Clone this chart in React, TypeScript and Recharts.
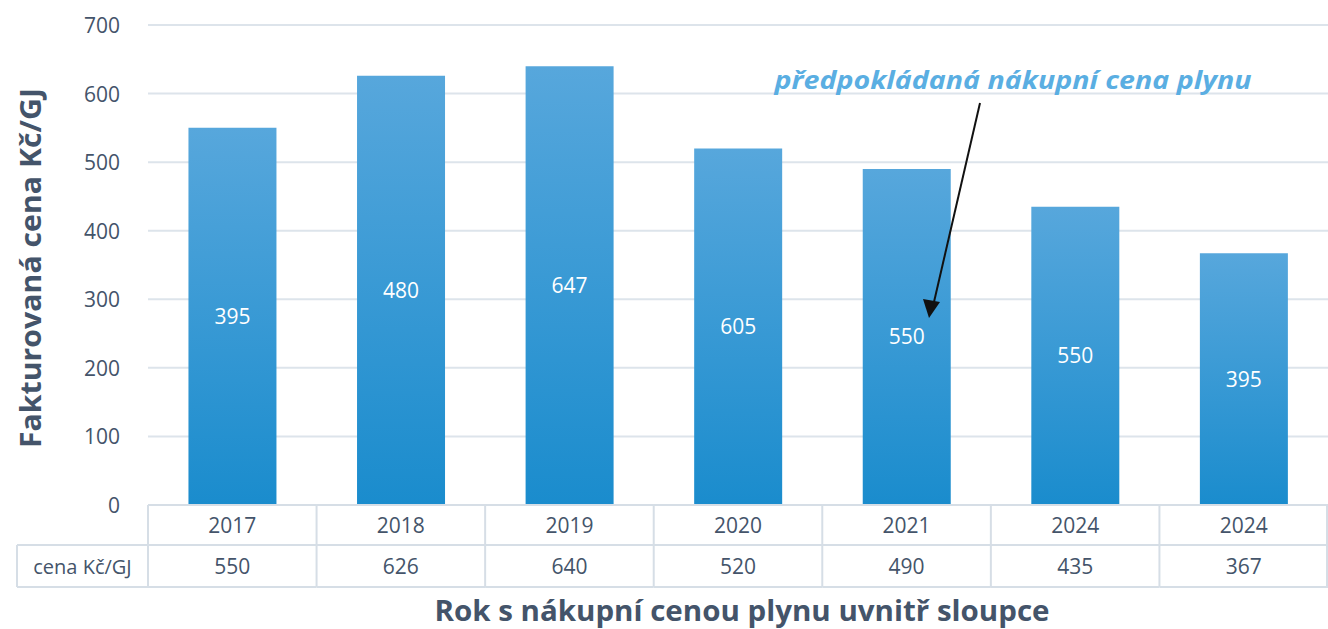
import React from 'react';
import { BarChart, Bar, XAxis, YAxis, CartesianGrid, LabelList } from 'recharts';

const years = ['2017', '2018', '2019', '2020', '2021', '2024', '2024'];
const prices = [550, 626, 640, 520, 490, 435, 367];
const insideValues = [395, 480, 647, 605, 550, 550, 395];
const yTicks = [0, 100, 200, 300, 400, 500, 600, 700];
const rowHeader = 'cena Kč/GJ';
const yTitle = 'Fakturovaná cena Kč/GJ';
const xTitle = 'Rok s nákupní cenou plynu uvnitř sloupce';
const annotation = 'předpokládaná nákupní cena plynu';

const data = years.map((y, i) => ({ year: y, price: prices[i], inside: insideValues[i] }));

const TEXT = '#44546A';
const BORDER = '#d6dee6';
const FONT = '"Open Sans", sans-serif';

const YTick = (props: any) => {
  const { x, y, payload } = props;
  return (
    <text x={x} y={y} textAnchor="end" dominantBaseline="central" fill={TEXT} fontSize={21} fontFamily={FONT}>
      {payload.value}
    </text>
  );
};

const TableTick = (props: any) => {
  const { x, y, index, payload } = props;
  const n = years.length;
  const cw = (typeof props.width === 'number' && props.width > 0 ? props.width : 1180) / n;
  const left = x - cw / 2;
  const right = x + cw / 2;
  const r1 = 40;
  const r2 = 82;
  return (
    <g>
      <line x1={left} x2={right} y1={y} y2={y} stroke={BORDER} strokeWidth={2} />
      <line x1={left} x2={right} y1={y + r1} y2={y + r1} stroke={BORDER} strokeWidth={2} />
      <line x1={left} x2={right} y1={y + r2} y2={y + r2} stroke={BORDER} strokeWidth={2} />
      <line x1={left} x2={left} y1={y} y2={y + r2} stroke={BORDER} strokeWidth={2} />
      {index === n - 1 && <line x1={right - 1} x2={right - 1} y1={y} y2={y + r2} stroke={BORDER} strokeWidth={2} />}
      {index === 0 && (
        <g>
          <line x1={17} x2={left} y1={y + r1} y2={y + r1} stroke={BORDER} strokeWidth={2} />
          <line x1={17} x2={left} y1={y + r2} y2={y + r2} stroke={BORDER} strokeWidth={2} />
          <line x1={17} x2={17} y1={y + r1} y2={y + r2} stroke={BORDER} strokeWidth={2} />
          <text x={(17 + left) / 2} y={y + 61} textAnchor="middle" dominantBaseline="central" fill={TEXT} fontSize={20} fontFamily={FONT}>
            {rowHeader}
          </text>
        </g>
      )}
      <text x={x} y={y + 20} textAnchor="middle" dominantBaseline="central" fill={TEXT} fontSize={21} fontFamily={FONT}>
        {payload.value}
      </text>
      <text x={x} y={y + 61} textAnchor="middle" dominantBaseline="central" fill={TEXT} fontSize={21} fontFamily={FONT}>
        {prices[index]}
      </text>
    </g>
  );
};

export default function App() {
  return (
    <div style={{ position: 'absolute', left: 0, top: 0, width: 1328, height: 629, fontFamily: FONT, background: '#fff' }}>
      <BarChart width={1328} height={629} data={data} margin={{ top: 25, right: 0, left: 0, bottom: 0 }} barCategoryGap="24%">
        <defs>
          <linearGradient id="barGrad" x1="0" y1="0" x2="0" y2="1">
            <stop offset="0%" stopColor="#57a7dc" />
            <stop offset="100%" stopColor="#1a8ccd" />
          </linearGradient>
        </defs>
        <CartesianGrid vertical={false} stroke="#dde4eb" strokeWidth={2} />
        <XAxis dataKey="year" height={124} axisLine={false} tickLine={false} tickSize={0} tickMargin={0}
          tick={<TableTick />} interval={0} />
        <YAxis width={148} domain={[0, 700]} ticks={yTicks} axisLine={false} tickLine={false} tickSize={0}
          tickMargin={28} tick={<YTick />} interval={0} />
        <Bar dataKey="price" fill="url(#barGrad)" isAnimationActive={false}>
          <LabelList dataKey="inside" position="center" fill="#ffffff" fontSize={21} fontFamily={FONT} />
        </Bar>
      </BarChart>
      <svg width={1328} height={629} style={{ position: 'absolute', left: 0, top: 0, pointerEvents: 'none' }}>
        <text transform="translate(30,268) rotate(-90)" textAnchor="middle" dominantBaseline="central"
          fill={TEXT} fontSize={28} fontWeight={700} fontFamily={FONT} textLength={360} lengthAdjust="spacingAndGlyphs">
          {yTitle}
        </text>
        <text x={742} y={621} textAnchor="middle" fill={TEXT} fontSize={29} fontWeight={700} fontFamily={FONT}
          textLength={615} lengthAdjust="spacingAndGlyphs">
          {xTitle}
        </text>
        <text x={1013} y={89} textAnchor="middle" fill="#5aaee2" fontSize={25} fontWeight={700} fontStyle="italic"
          fontFamily={FONT} textLength={477} lengthAdjust="spacingAndGlyphs">
          {annotation}
        </text>
        <line x1={980} y1={103} x2={934} y2={302} stroke="#111" strokeWidth={2} />
        <polygon points="929,318 923,299 940,302" fill="#111" />
      </svg>
    </div>
  );
}
